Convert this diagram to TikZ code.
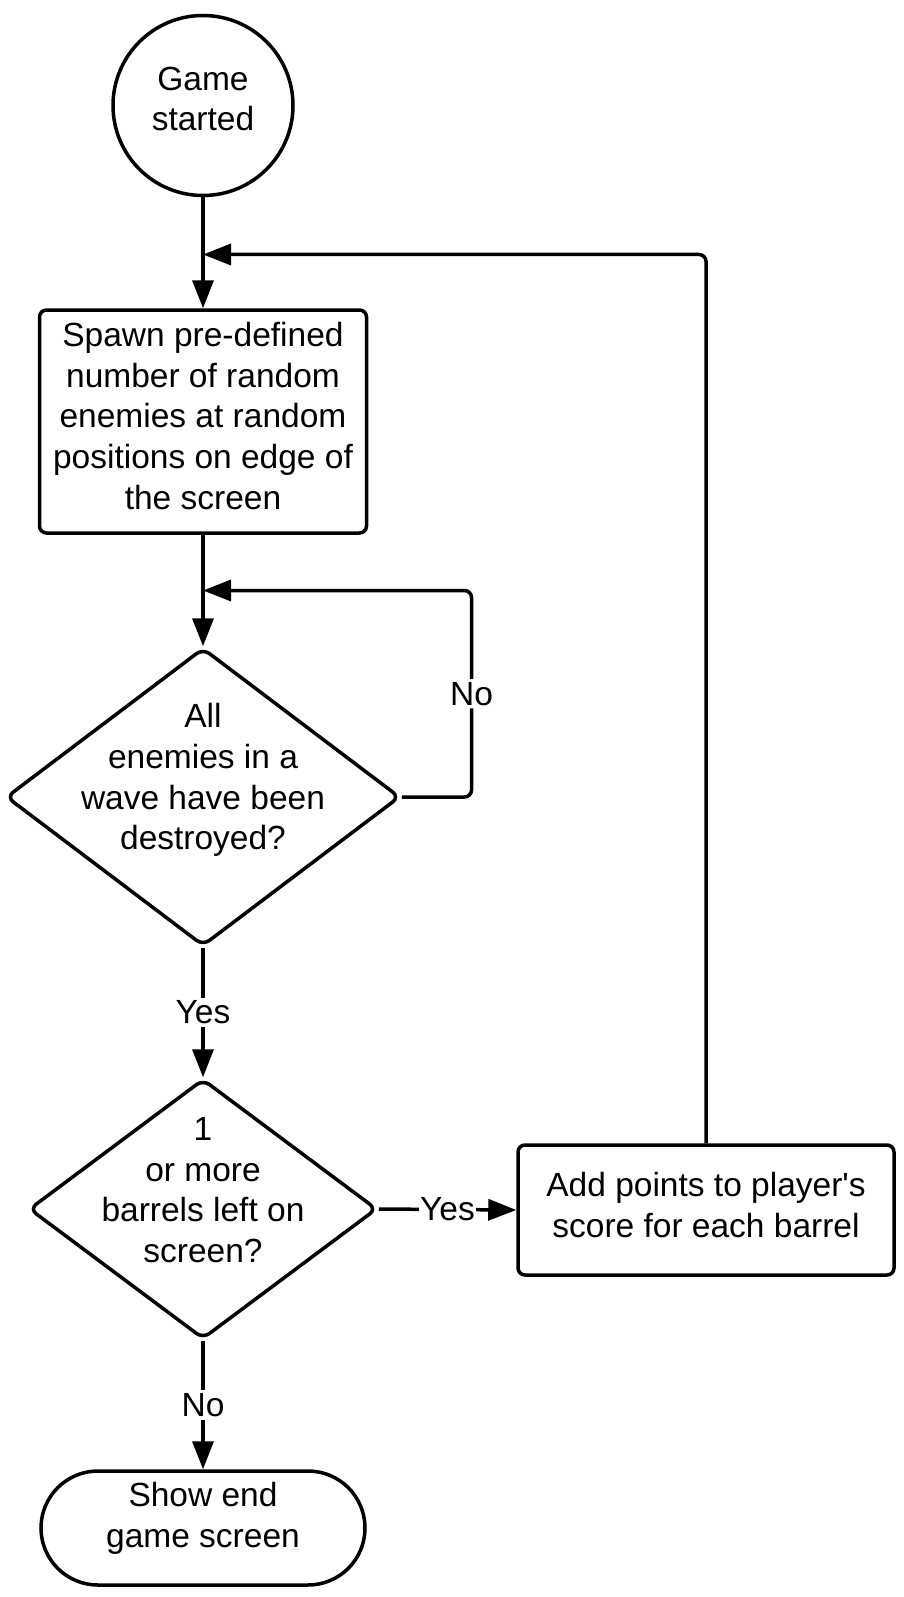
\documentclass[tikz,border=0pt]{standalone}
\usepackage{fontspec}
\setmainfont{Liberation Sans}
\usetikzlibrary{arrows.meta,shapes.geometric}
\begin{document}
\begin{tikzpicture}[x=1pt,y=-1pt,
  every node/.style={font=\fontsize{33.5}{40.7}\selectfont},
  shp/.style={draw,line width=3.5pt,inner sep=0pt},
  boxnode/.style={shp,rectangle,rounded corners=7pt},
  dia/.style={shp,diamond,rounded corners=8pt},
  txt/.style={align=center,inner sep=0pt},
  lbl/.style={fill=white,inner sep=3pt},
  conn/.style={line width=3.5pt},
  arr/.style={conn,-{Triangle[length=28pt,width=21pt]}}
]
\useasboundingbox (0,0) rectangle (904,1597);
% shapes
\node[shp,circle,minimum size=180pt] (start) at (203,105.5) {};
\node[txt] (startt) at (203,99) {Game\\started};
\node[boxnode,minimum width=327pt,minimum height=223pt] (r1) at (203,421.5) {};
\node[txt] (r1t) at (203,416) {Spawn pre-defined\\number of random\\enemies at random\\positions on edge of\\the screen};
\node[dia,minimum width=394pt,minimum height=298pt] (d1) at (203,797) {};
\node[txt] (d1t) at (203,780) {All\\enemies in a\\wave have been\\destroyed?};
\node[dia,minimum width=348pt,minimum height=260pt] (d2) at (203,1209) {};
\node[txt] (d2t) at (203,1190) {1\\or more\\barrels left on\\screen?};
\node[boxnode,minimum width=376pt,minimum height=130pt] (r2) at (706,1210) {};
\node[txt] (r2t) at (706,1205) {Add points to player\textquotesingle s\\score for each barrel};
\node[shp,rectangle,rounded corners=57pt,minimum width=324pt,minimum height=114pt] (term) at (203,1528) {};
\node[txt] (termt) at (203,1518) {Show end\\game screen};
% junctions
\coordinate (j1) at (203,254.5);
\coordinate (j2) at (203,590.5);
\coordinate (c1) at (706,254.5);
\coordinate (c2) at (471.5,797);
\coordinate (c3) at (471.5,590.5);
% connectors
\draw[arr] (start.south) -- (r1.north);
\draw[arr,rounded corners=7pt] (r2.north) -- (c1) -- (j1);
\draw[arr] (r1.south) -- (d1.north);
\draw[arr,rounded corners=7pt] (d1.east) -- (c2) -- node[lbl] (no1) {No} (c3) -- (j2);
\draw[arr] (d1.south) -- node[lbl] (yes1) {Yes} (d2.north);
\draw[arr] (d2.east) -- node[lbl,inner sep=1pt] (yes2) {Yes} (r2.west);
\draw[arr] (d2.south) -- node[lbl] (no2) {No} (term.north);
\end{tikzpicture}
\end{document}
